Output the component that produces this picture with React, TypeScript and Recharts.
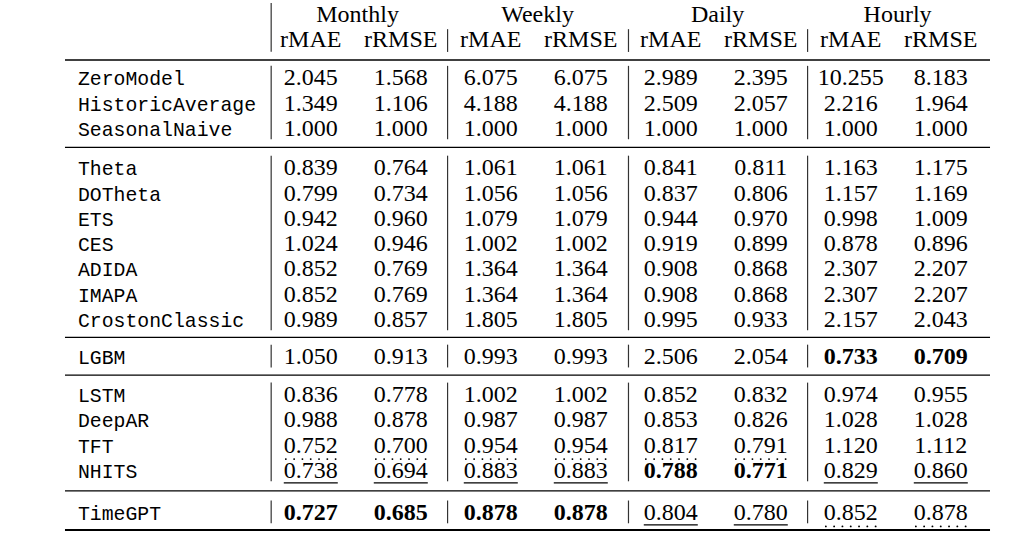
import { ScatterChart, Scatter, XAxis, YAxis, ReferenceLine } from "recharts";

const MODELS = [
  "ZeroModel", "HistoricAverage", "SeasonalNaive",
  "Theta", "DOTheta", "ETS", "CES", "ADIDA", "IMAPA", "CrostonClassic",
  "LGBM",
  "LSTM", "DeepAR", "TFT", "NHITS",
  "TimeGPT",
];
const GROUP_SIZES = [3, 7, 1, 4, 1];
const FREQUENCIES = ["Monthly", "Weekly", "Daily", "Hourly"];
const METRICS = ["rMAE", "rRMSE"];

const MONTHLY_RMAE = [2.045, 1.349, 1.0, 0.839, 0.799, 0.942, 1.024, 0.852, 0.852, 0.989, 1.05, 0.836, 0.988, 0.752, 0.738, 0.727];
const MONTHLY_RRMSE = [1.568, 1.106, 1.0, 0.764, 0.734, 0.96, 0.946, 0.769, 0.769, 0.857, 0.913, 0.778, 0.878, 0.7, 0.694, 0.685];
const WEEKLY_RMAE = [6.075, 4.188, 1.0, 1.061, 1.056, 1.079, 1.002, 1.364, 1.364, 1.805, 0.993, 1.002, 0.987, 0.954, 0.883, 0.878];
const WEEKLY_RRMSE = [6.075, 4.188, 1.0, 1.061, 1.056, 1.079, 1.002, 1.364, 1.364, 1.805, 0.993, 1.002, 0.987, 0.954, 0.883, 0.878];
const DAILY_RMAE = [2.989, 2.509, 1.0, 0.841, 0.837, 0.944, 0.919, 0.908, 0.908, 0.995, 2.506, 0.852, 0.853, 0.817, 0.788, 0.804];
const DAILY_RRMSE = [2.395, 2.057, 1.0, 0.811, 0.806, 0.97, 0.899, 0.868, 0.868, 0.933, 2.054, 0.832, 0.826, 0.791, 0.771, 0.78];
const HOURLY_RMAE = [10.255, 2.216, 1.0, 1.163, 1.157, 0.998, 0.878, 2.307, 2.307, 2.157, 0.733, 0.974, 1.028, 1.12, 0.829, 0.852];
const HOURLY_RRMSE = [8.183, 1.964, 1.0, 1.175, 1.169, 1.009, 0.896, 2.207, 2.207, 2.043, 0.709, 0.955, 1.028, 1.112, 0.86, 0.878];

const COLUMNS = [MONTHLY_RMAE, MONTHLY_RRMSE, WEEKLY_RMAE, WEEKLY_RRMSE, DAILY_RMAE, DAILY_RRMSE, HOURLY_RMAE, HOURLY_RRMSE];

// layout, in table units: x = value column index, y = row slot
const W = 1028;
const H = 539;
const X_DOMAIN = [-3.453, 7.969];
const Y_DOMAIN = [-0.553, 20.751];
const NAME_X = -2.587;
const RULE_LEFT = -2.731;
const RULE_RIGHT = 7.547;
const NAME_SEP = -0.44;
const GROUP_SEPS = [1.52, 3.53, 5.52];
const MIDRULE = 1.82;
const FIRST_ROW = 2.5;
const GROUP_GAPS = [0.55, 0.47, 0.5, 0.66]; // extra space between groups
const BOTTOM_PAD = 0.72;

const SERIF = "'Liberation Serif', 'Times New Roman', serif";
const MONO = "'Liberation Mono', 'DejaVu Sans Mono', monospace";
const FS = 24;
const MONO_FS = 19.8;
const BASELINE = FS * 0.34;

// row slots, groups separated by a small gap with a rule in the middle
const slots: number[] = [];
const groupSpans: [number, number][] = [];
{
  let s = FIRST_ROW;
  GROUP_SIZES.forEach((n, g) => {
    const first = s;
    for (let i = 0; i < n; i++) {
      slots.push(s);
      s += 1;
    }
    groupSpans.push([first, s - 1]);
    s += GROUP_GAPS[g] ?? 0;
  });
}

const rankOf = (col: number[]) => {
  const sorted = [...col].sort((a, b) => a - b);
  return col.map((v) => sorted.indexOf(v) + 1);
};

const textWidth = (s: string) =>
  s.split("").reduce((w, ch) => w + (ch === "." ? 0.25 : 0.5), 0) * FS;

const ValueCell = (props: any) => {
  const { cx, cy, payload } = props;
  const { label, rank } = payload;
  const w = textWidth(label);
  return (
    <g>
      <text
        x={cx}
        y={cy + BASELINE}
        textAnchor="middle"
        fontFamily={SERIF}
        fontSize={FS}
        fontWeight={rank === 1 ? "bold" : "normal"}
        fill="#000"
      >
        {label}
      </text>
      {rank === 2 && (
        <line x1={cx - w / 2} x2={cx + w / 2} y1={cy + 13} y2={cy + 13} stroke="#000" strokeWidth={1.1} />
      )}
      {rank === 3 && (
        <line
          x1={cx - w / 2 + 2}
          x2={cx + w / 2}
          y1={cy + 14.5}
          y2={cy + 14.5}
          stroke="#000"
          strokeWidth={1.8}
          strokeLinecap="round"
          strokeDasharray="0.1 8.2"
        />
      )}
    </g>
  );
};

const NameCell = (props: any) => {
  const { cx, cy, payload } = props;
  return (
    <text x={cx} y={cy + BASELINE} textAnchor="start" fontFamily={MONO} fontSize={MONO_FS} fill="#000">
      {payload.label}
    </text>
  );
};

const HeaderCell = (props: any) => {
  const { cx, cy, payload } = props;
  return (
    <text x={cx} y={cy + BASELINE} textAnchor="middle" fontFamily={SERIF} fontSize={FS} fill="#000">
      {payload.label}
    </text>
  );
};

export default function App() {
  const nameData = MODELS.map((m, i) => ({ x: NAME_X, y: slots[i], label: m }));
  const freqData = FREQUENCIES.map((f, i) => ({ x: i * 2 + 0.52, y: 0, label: f }));
  const metricData = COLUMNS.map((_, c) => ({ x: c, y: 1, label: METRICS[c % 2] }));
  const last = groupSpans[groupSpans.length - 1][1];

  return (
    <div style={{ position: "absolute", left: 0, top: 0, width: W, height: H, background: "#fff" }}>
      <ScatterChart width={W} height={H} margin={{ top: 0, right: 0, bottom: 0, left: 0 }}>
        <XAxis type="number" dataKey="x" hide domain={X_DOMAIN} scale="linear" allowDataOverflow />
        <YAxis type="number" dataKey="y" hide domain={Y_DOMAIN} scale="linear" allowDataOverflow reversed />

        {/* horizontal rules */}
        <ReferenceLine segment={[{ x: RULE_LEFT, y: MIDRULE }, { x: RULE_RIGHT, y: MIDRULE }]} stroke="#000" strokeWidth={1.4} />
        {groupSpans.slice(0, -1).map(([, end], g) => {
          const ry = (end + groupSpans[g + 1][0]) / 2;
          return (
            <ReferenceLine
              key={`rule-${g}`}
              segment={[{ x: RULE_LEFT, y: ry }, { x: RULE_RIGHT, y: ry }]}
              stroke="#000"
              strokeWidth={1.3}
            />
          );
        })}
        <ReferenceLine
          segment={[{ x: RULE_LEFT, y: last + BOTTOM_PAD }, { x: RULE_RIGHT, y: last + BOTTOM_PAD }]}
          stroke="#000"
          strokeWidth={2}
        />

        {/* vertical separators */}
        <ReferenceLine segment={[{ x: NAME_SEP, y: -0.43 }, { x: NAME_SEP, y: 1.49 }]} stroke="#333" strokeWidth={1.2} />
        {GROUP_SEPS.map((gx) => (
          <ReferenceLine key={`hsep-${gx}`} segment={[{ x: gx, y: 0.6 }, { x: gx, y: 1.5 }]} stroke="#333" strokeWidth={1.2} />
        ))}
        {groupSpans.map(([a, b], g) =>
          [NAME_SEP, ...GROUP_SEPS].map((gx) => (
            <ReferenceLine
              key={`bsep-${g}-${gx}`}
              segment={[{ x: gx, y: a - 0.45 }, { x: gx, y: b + 0.45 }]}
              stroke="#333"
              strokeWidth={1.2}
            />
          ))
        )}

        <Scatter data={freqData} shape={HeaderCell} isAnimationActive={false} />
        <Scatter data={metricData} shape={HeaderCell} isAnimationActive={false} />
        <Scatter data={nameData} shape={NameCell} isAnimationActive={false} />
        {COLUMNS.map((col, c) => {
          const ranks = rankOf(col);
          const data = col.map((v, i) => ({ x: c, y: slots[i], label: v.toFixed(3), rank: ranks[i] }));
          return <Scatter key={`col-${c}`} data={data} shape={ValueCell} isAnimationActive={false} />;
        })}
      </ScatterChart>
    </div>
  );
}
